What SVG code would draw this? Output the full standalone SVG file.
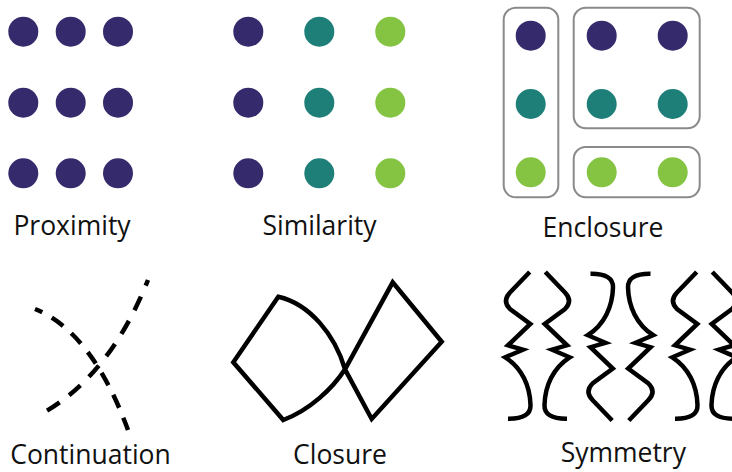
<svg xmlns="http://www.w3.org/2000/svg" width="732" height="472" viewBox="0 0 732 472">
<style>
.p{fill:#352a6c}.t{fill:#1e7f78}.g{fill:#84c442}
.box{fill:none;stroke:#8a8a8a;stroke-width:2}
.lbl{font-family:"Open Sans","Liberation Sans",sans-serif;font-size:26.5px;fill:#111;text-anchor:middle}
.ink{fill:none;stroke:#000;stroke-width:4.5}
.dash{fill:none;stroke:#000;stroke-width:4.5;stroke-linecap:butt}
</style>
<defs>
<path id="sym" d="M529.7,272 L510,292.5 Q502,301 510,309 L530.3,324 L508,345.3 L523,349.7 L505.3,357.3 C522,368 530,386 530.5,405 Q531,419 508,418.7" fill="none" stroke="#000" stroke-width="4.5" stroke-linejoin="miter"/>
</defs>
<rect width="732" height="472" fill="#fff"/>
<g id="proximity">
<circle class="p" cx="23.3" cy="31.7" r="15"/><circle class="p" cx="70.7" cy="31.7" r="15"/><circle class="p" cx="118" cy="31.7" r="15"/>
<circle class="p" cx="23.3" cy="102.7" r="15"/><circle class="p" cx="70.7" cy="102.7" r="15"/><circle class="p" cx="118" cy="102.7" r="15"/>
<circle class="p" cx="23.3" cy="173.3" r="15"/><circle class="p" cx="70.7" cy="173.3" r="15"/><circle class="p" cx="118" cy="173.3" r="15"/>
<text class="lbl" x="72" y="235">Proximity</text>
</g>
<g id="similarity">
<circle class="p" cx="248.3" cy="31.7" r="15"/><circle class="t" cx="319.3" cy="31.7" r="15"/><circle class="g" cx="390.3" cy="31.7" r="15"/>
<circle class="p" cx="248.3" cy="102.7" r="15"/><circle class="t" cx="319.3" cy="102.7" r="15"/><circle class="g" cx="390.3" cy="102.7" r="15"/>
<circle class="p" cx="248.3" cy="173.3" r="15"/><circle class="t" cx="319.3" cy="173.3" r="15"/><circle class="g" cx="390.3" cy="173.3" r="15"/>
<text class="lbl" x="319.5" y="235">Similarity</text>
</g>
<g id="enclosure">
<rect class="box" x="503.7" y="7.7" width="54.6" height="189.6" rx="12"/>
<rect class="box" x="573.7" y="7.7" width="126" height="120.6" rx="12"/>
<rect class="box" x="573.7" y="147" width="126" height="50.3" rx="12"/>
<circle class="p" cx="530.7" cy="35.7" r="15"/><circle class="p" cx="601.7" cy="35.7" r="15"/><circle class="p" cx="672.7" cy="35.7" r="15"/>
<circle class="t" cx="530.7" cy="104" r="15"/><circle class="t" cx="601.7" cy="104" r="15"/><circle class="t" cx="672.7" cy="104" r="15"/>
<circle class="g" cx="530.7" cy="172.3" r="15"/><circle class="g" cx="601.7" cy="172.3" r="15"/><circle class="g" cx="672.7" cy="172.3" r="15"/>
<text class="lbl" x="603" y="237">Enclosure</text>
</g>
<g id="continuation">
<path class="dash" d="M35,309 Q92,332 128,430" stroke-dasharray="14 11" stroke-dashoffset="6"/>
<path class="dash" d="M148,280 Q110,375 43,413" stroke-dasharray="15 12" stroke-dashoffset="9"/>
<text class="lbl" x="90.5" y="464">Continuation</text>
</g>
<g id="closure">
<path class="ink" stroke-linejoin="miter" d="M345,369.3 C335,335 310,304 278.3,296.7 L233.3,362.3 L283.3,420 C310,410 333,388 345,369.3 L392.7,282.3 L441.7,341.7 L371.7,419 Z"/>
<text class="lbl" x="340" y="464">Closure</text>
</g>
<g id="symmetry">
<use href="#sym"/>
<use href="#sym" transform="translate(1075,0) scale(-1,1)"/>
<use href="#sym" transform="translate(82.5,692.5) scale(1,-1)"/>
<use href="#sym" transform="translate(1158.5,692.5) scale(-1,-1)"/>
<use href="#sym" transform="translate(167,0)"/>
<use href="#sym" transform="translate(1242,0) scale(-1,1)"/>
<text class="lbl" x="623.3" y="462">Symmetry</text>
</g>
</svg>
